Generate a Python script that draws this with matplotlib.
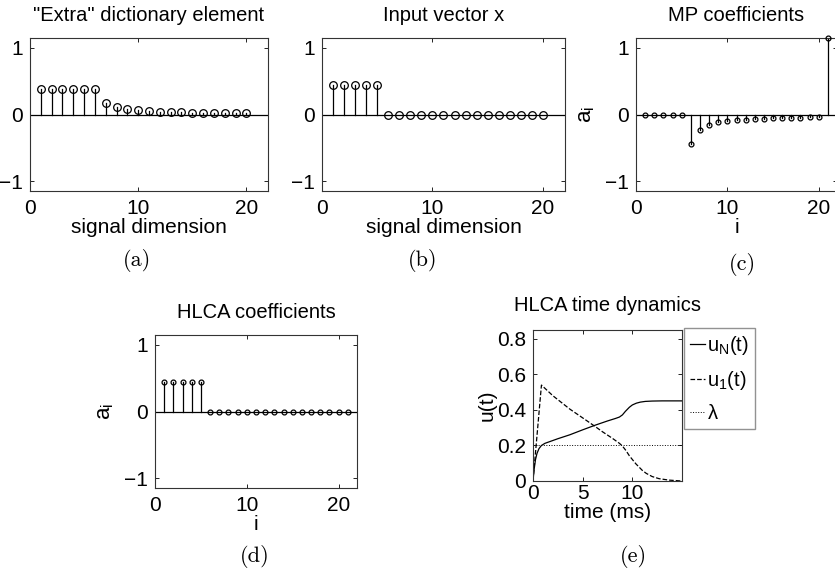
import matplotlib
matplotlib.use('Agg')
import matplotlib.pyplot as plt
import numpy as np

plt.rcParams['font.family'] = ['Liberation Sans', 'DejaVu Sans']
plt.rcParams['mathtext.fontset'] = 'custom'
plt.rcParams['mathtext.rm'] = 'Liberation Sans'
plt.rcParams['mathtext.it'] = 'Liberation Sans'

W, H = 835, 573

# (a) extra dictionary element
extra_idx = np.arange(1, 21)
extra_val = [0.39, 0.39, 0.39, 0.39, 0.39, 0.39, 0.18, 0.12, 0.09, 0.07,
             0.055, 0.045, 0.04, 0.035, 0.03, 0.028, 0.025, 0.022, 0.02, 0.018]

# (b) input vector x
x_idx = np.arange(1, 21)
x_val = [0.447] * 5 + [0.0] * 15

# (c) MP coefficients
mp_idx = np.arange(1, 22)
mp_val = [0, 0, 0, 0, 0, -0.45, -0.235, -0.16, -0.12, -0.10,
          -0.085, -0.08, -0.07, -0.065, -0.06, -0.055, -0.05, -0.05, -0.045, -0.045, 1.15]

# (d) HLCA coefficients
hl_idx = np.arange(1, 22)
hl_val = [0.45] * 5 + [0.0] * 16

# (e) HLCA time dynamics
t_uN = [0, 0.1, 0.25, 0.4, 0.6, 0.85, 1.2, 1.7, 2.5, 3.7, 5.0, 6.3, 7.5, 8.3, 8.7,
        9.0, 9.3, 9.7, 10.0, 10.4, 10.8, 11.3, 12.0, 13.0, 15.0]
uN = [0, 0.06, 0.12, 0.155, 0.182, 0.2, 0.212, 0.222, 0.238, 0.26, 0.288, 0.315, 0.338,
      0.352, 0.36, 0.372, 0.392, 0.415, 0.428, 0.438, 0.444, 0.448, 0.45, 0.451, 0.451]
t_u1 = [0, 0.85, 2.0, 3.7, 5.4, 6.3, 7.0, 8.0, 8.7, 9.0, 9.35, 9.7, 10.35, 11.0, 11.4,
        12.0, 12.7, 13.7, 14.7, 15.0]
u1 = [0, 0.54, 0.48, 0.405, 0.34, 0.305, 0.277, 0.24, 0.212, 0.197, 0.172, 0.142, 0.097,
      0.06, 0.043, 0.025, 0.013, 0.005, 0.001, 0.0]
lam = 0.2


def rect(x0, y0, x1, y1):
    return [x0 / W, 1 - y1 / H, (x1 - x0) / W, (y1 - y0) / H]


def style(ax):
    ax.tick_params(direction='in', length=3, width=0.6, labelsize=15,
                   top=True, right=True, pad=5)
    ax.tick_params(axis='x', pad=6)
    for s in ax.spines.values():
        s.set_linewidth(0.8)
        s.set_color('#333333')


def stem(ax, idx, val, ms):
    for i, v in zip(idx, val):
        ax.plot([i, i], [0, v], color='k', lw=0.9)
    ax.plot(idx, val, 'o', mfc='none', mec='k', ms=ms, mew=0.9, clip_on=False, zorder=3)
    ax.axhline(0, color='k', lw=0.9)
    ax.set_xlim(0, 22)
    ax.set_ylim(-1.15, 1.15)
    ax.set_xticks([0, 10, 20])
    ax.set_yticks([-1, 0, 1])
    ax.set_yticklabels(['\u22121', '0', '1'])


fig = plt.figure(figsize=(W / 100, H / 100), dpi=100)

ax = fig.add_axes(rect(30, 38, 268, 191))
stem(ax, extra_idx, extra_val, 5.5)
style(ax)
ax.set_title('"Extra" dictionary element', fontsize=14.5, pad=12)
ax.set_xlabel('signal dimension', fontsize=15, labelpad=0)

ax = fig.add_axes(rect(322, 38, 565, 191))
stem(ax, x_idx, x_val, 5.5)
style(ax)
ax.set_title('Input vector x', fontsize=14.5, pad=12)
ax.set_xlabel('signal dimension', fontsize=15, labelpad=0)

ax = fig.add_axes(rect(636, 38, 837, 191))
stem(ax, mp_idx, mp_val, 3.5)
style(ax)
ax.set_title('MP coefficients', fontsize=14.5, pad=12)
ax.set_xlabel('i', fontsize=15, labelpad=0)
ax.set_ylabel('$\\mathregular{a_i}$', fontsize=16, labelpad=6)

ax = fig.add_axes(rect(155, 335, 357, 488))
stem(ax, hl_idx, hl_val, 3.5)
style(ax)
ax.set_title('HLCA coefficients', fontsize=14.5, pad=12)
ax.set_xlabel('i', fontsize=15, labelpad=0)
ax.set_ylabel('$\\mathregular{a_i}$', fontsize=16, labelpad=6)

ax = fig.add_axes(rect(533, 330, 682, 481))
ax.plot(t_uN, uN, 'k-', lw=0.9, label='$\\mathregular{u_N(t)}$')
ax.plot(t_u1, u1, 'k--', lw=0.9, label='$\\mathregular{u_1(t)}$')
ax.axhline(lam, color='k', ls=':', lw=0.7, label='$\\lambda$')
ax.set_xlim(0, 15)
ax.set_ylim(0, 0.85)
ax.set_xticks([0, 5, 10])
ax.set_yticks([0, 0.2, 0.4, 0.6, 0.8])
ax.set_yticklabels(['0', '0.2', '0.4', '0.6', '0.8'])
style(ax)
ax.tick_params(axis='x', pad=2)
ax.set_title('HLCA time dynamics', fontsize=14.5, pad=14)
ax.set_xlabel('time (ms)', fontsize=15, labelpad=0)
ax.set_ylabel('u(t)', fontsize=15, labelpad=0)
leg = fig.legend(*ax.get_legend_handles_labels(), loc='upper left',
                 bbox_to_anchor=(684 / W, 1 - 328 / H), fontsize=14.5,
                 handlelength=0.75, handletextpad=0.1, borderpad=0.3,
                 labelspacing=0.6, fancybox=False, frameon=True, borderaxespad=0)
leg.get_frame().set_edgecolor('#777777')
leg.get_frame().set_linewidth(1.0)

lab = dict(fontsize=16, ha='center', va='center', family='cmr10')
fig.text(137 / W, 1 - 261 / H, '(a)', **lab)
fig.text(423 / W, 1 - 261 / H, '(b)', **lab)
fig.text(742 / W, 1 - 264 / H, '(c)', **lab)
fig.text(255 / W, 1 - 556 / H, '(d)', **lab)
fig.text(633 / W, 1 - 556 / H, '(e)', **lab)

fig.savefig('out.png', dpi=100)
